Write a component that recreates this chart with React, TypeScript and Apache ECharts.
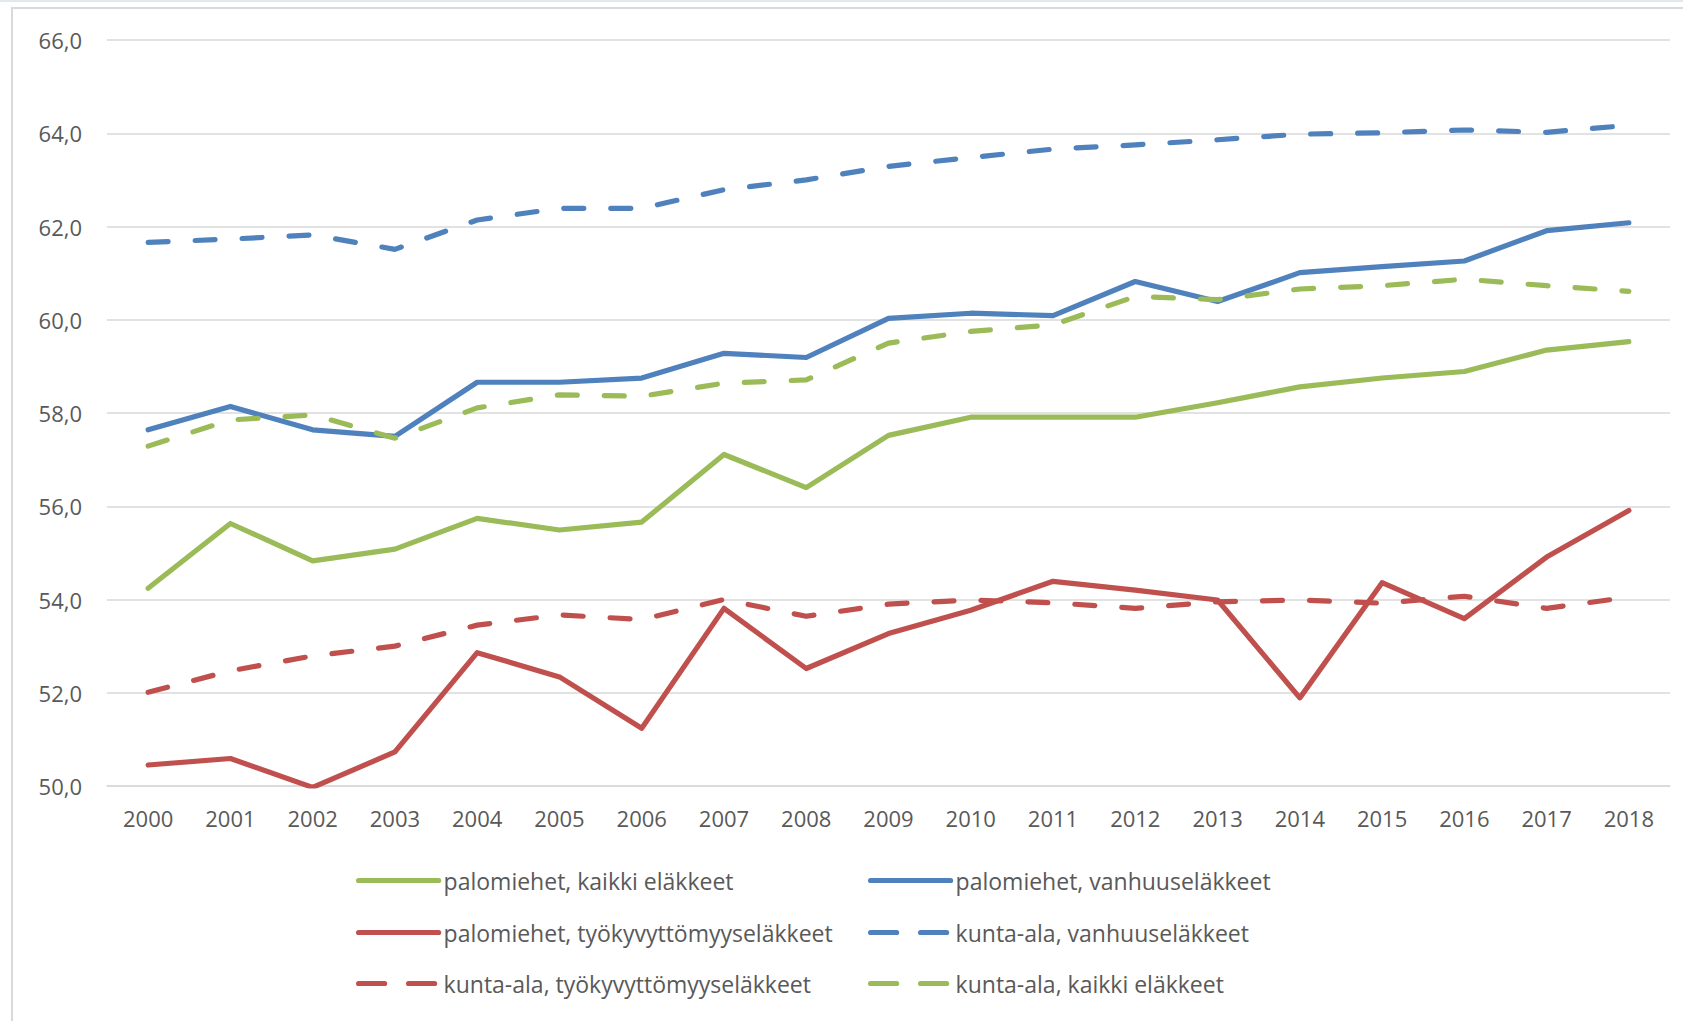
import React, { useEffect, useRef } from "react";
import * as echarts from "echarts";

const years = ["2000","2001","2002","2003","2004","2005","2006","2007","2008","2009","2010","2011","2012","2013","2014","2015","2016","2017","2018"];

const palomiehetKaikki = [54.24, 55.63, 54.83, 55.08, 55.74, 55.49, 55.66, 57.11, 56.40, 57.52, 57.91, 57.91, 57.91, 58.22, 58.56, 58.75, 58.89, 59.35, 59.53];
const palomiehetVanhuus = [57.64, 58.14, 57.64, 57.50, 58.66, 58.66, 58.75, 59.28, 59.19, 60.03, 60.14, 60.09, 60.82, 60.39, 61.01, 61.14, 61.26, 61.91, 62.08];
const palomiehetTyokyvyttomyys = [50.45, 50.59, 49.97, 50.73, 52.86, 52.34, 51.24, 53.81, 52.52, 53.27, 53.77, 54.39, 54.20, 53.99, 51.89, 54.36, 53.59, 54.91, 55.91];
const kuntaVanhuus = [61.66, 61.73, 61.82, 61.51, 62.14, 62.39, 62.39, 62.79, 63.00, 63.29, 63.48, 63.66, 63.75, 63.86, 63.98, 64.01, 64.07, 64.02, 64.17];
const kuntaTyokyvyttomyys = [52.01, 52.47, 52.79, 53.00, 53.45, 53.67, 53.57, 54.00, 53.64, 53.90, 53.99, 53.93, 53.81, 53.95, 53.99, 53.92, 54.07, 53.81, 54.05];
const kuntaKaikki = [57.29, 57.85, 57.96, 57.46, 58.11, 58.39, 58.36, 58.64, 58.71, 59.50, 59.75, 59.89, 60.50, 60.43, 60.66, 60.73, 60.87, 60.73, 60.61];

const seriesNames = [
  "palomiehet, kaikki eläkkeet",
  "palomiehet, vanhuuseläkkeet",
  "palomiehet, työkyvyttömyyseläkkeet",
  "kunta-ala, vanhuuseläkkeet",
  "kunta-ala, työkyvyttömyyseläkkeet",
  "kunta-ala, kaikki eläkkeet",
];

const GREEN = "#9BBB59";
const BLUE = "#4F81BD";
const RED = "#C0504D";
const TEXT = "#595959";
const FONT = "'Open Sans', 'Liberation Sans', sans-serif";

export default function App() {
  const ref = useRef<HTMLDivElement>(null);

  useEffect(() => {
    if (!ref.current) return;
    const chart = echarts.init(ref.current, undefined, { renderer: "svg" });

    const dash = [20, 27];
    const mk = (name: string, data: number[], color: string, dashed: boolean) => ({
      name,
      type: "line",
      data,
      symbol: "none",
      showSymbol: false,
      smooth: false,
      lineStyle: {
        color,
        width: 5.2,
        type: dashed ? dash : "solid",
        cap: "round",
        join: "round",
      },
      itemStyle: { color },
      emphasis: { disabled: true },
    });

    const series = [
      mk(seriesNames[0], palomiehetKaikki, GREEN, false),
      mk(seriesNames[1], palomiehetVanhuus, BLUE, false),
      mk(seriesNames[2], palomiehetTyokyvyttomyys, RED, false),
      mk(seriesNames[3], kuntaVanhuus, BLUE, true),
      mk(seriesNames[4], kuntaTyokyvyttomyys, RED, true),
      mk(seriesNames[5], kuntaKaikki, GREEN, true),
    ];

    const legendPos = [
      { left: 356, top: 880 },
      { left: 868, top: 880 },
      { left: 356, top: 932 },
      { left: 868, top: 932 },
      { left: 356, top: 983 },
      { left: 868, top: 983 },
    ];
    const dashedFlags = [false, false, false, true, true, true];

    const legends = seriesNames.map((n, i) => ({
      data: [n],
      left: legendPos[i].left,
      top: legendPos[i].top - 11,
      orient: "horizontal",
      padding: 0,
      itemWidth: 80,
      itemHeight: 22,
      selectedMode: false,
      itemStyle: { opacity: 0, borderWidth: 0 },
      lineStyle: {
        width: 5.2,
        type: dashedFlags[i] ? [26, 24] : "solid",
        cap: "round",
        opacity: 1,
      },
      textStyle: {
        color: TEXT,
        fontSize: 23,
        fontFamily: FONT,
        lineHeight: 22,
      },
    }));

    chart.setOption({
      animation: false,
      backgroundColor: "#ffffff",
      graphic: [
        {
          type: "rect",
          silent: true,
          shape: { x: 0, y: 0, width: 1683, height: 2 },
          style: { fill: "#e3e8ec" },
        },
        {
          type: "rect",
          silent: true,
          shape: { x: 12, y: 8, width: 1700, height: 1040 },
          style: { fill: "none", stroke: "#d9d9d9", lineWidth: 2 },
        },
      ],
      grid: { left: 107, right: 13, top: 40, bottom: 235, containLabel: false },
      xAxis: {
        type: "category",
        data: years,
        boundaryGap: true,
        axisLine: { show: true, lineStyle: { color: "#d9d9d9", width: 1.5 } },
        axisTick: { show: false },
        axisLabel: {
          color: TEXT,
          fontSize: 22,
          fontFamily: FONT,
          margin: 21,
          interval: 0,
        },
        splitLine: { show: false },
      },
      yAxis: {
        type: "value",
        min: 50,
        max: 66,
        interval: 2,
        axisLine: { show: false },
        axisTick: { show: false },
        axisLabel: {
          color: TEXT,
          fontSize: 22,
          fontFamily: FONT,
          margin: 25,
          formatter: (v: number) => v.toFixed(1).replace(".", ","),
        },
        splitLine: { lineStyle: { color: "#d9d9d9", width: 1.5 } },
      },
      legend: legends,
      series,
    });

    return () => chart.dispose();
  }, []);

  return (
    <div
      ref={ref}
      style={{ position: "absolute", left: 0, top: 0, width: 1683, height: 1021 }}
    />
  );
}
